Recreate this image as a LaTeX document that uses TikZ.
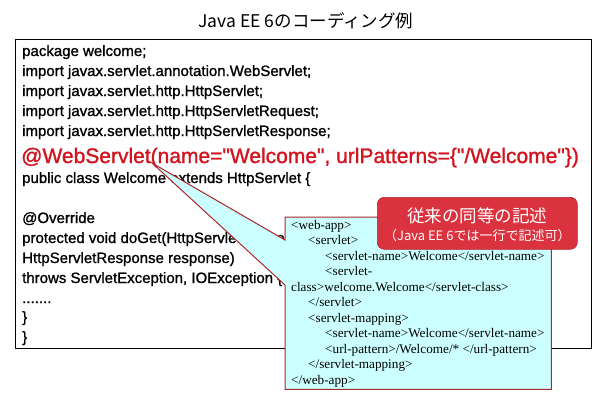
\documentclass[tikz,border=0pt]{standalone}
\usepackage{fontspec}
\setmainfont{Liberation Sans}
\newfontfamily\jpfont{Noto Sans CJK JP}
\newfontfamily\codefont[FakeBold=1.2]{Liberation Sans}
\newfontfamily\xmlfont{Liberation Serif}
\definecolor{annRed}{RGB}{210,20,30}
\definecolor{noteRed}{RGB}{218,50,62}
\definecolor{calloutFill}{RGB}{204,255,255}
\definecolor{calloutLine}{RGB}{170,40,40}
\tikzset{
  code/.style={anchor=base west, inner sep=0pt, font=\codefont\fontsize{15}{17}\selectfont},
  redcode/.style={anchor=base west, inner sep=0pt, text=annRed, font=\codefont\fontsize{21}{23}\selectfont},
  xml/.style={anchor=base west, inner sep=0pt, font=\xmlfont\fontsize{13.2}{15}\selectfont},
  framebox/.style={draw=black, line width=1.1pt, inner sep=0pt, anchor=north west},
  callout/.style={fill=calloutFill, draw=calloutLine, line width=1pt, line join=miter},
  notebox/.style={fill=noteRed, draw=noteRed!80!black, line width=0.6pt, rounded corners=7pt, inner sep=0pt, anchor=north west, text=white, align=center}
}
\begin{document}
\begin{tikzpicture}[x=1pt,y=-1pt]
\useasboundingbox (0,0) rectangle (612,416);
\fill[white] (0,0) rectangle (612,416);
% title
\node[font=\jpfont\fontsize{17.5}{19}\selectfont, inner sep=0pt] (title) at (306,21) {Java EE 6のコーディング例};
% main code box
\node[framebox, minimum width=576pt, minimum height=309pt] (codebox) at (15,39) {};
% code lines
\node[code] (c1) at (22,56) {package welcome;};
\node[code] (c2) at (22,76) {import javax.servlet.annotation.WebServlet;};
\node[code] (c3) at (22,96) {import javax.servlet.http.HttpServlet;};
\node[code] (c4) at (22,116) {import javax.servlet.http.HttpServletRequest;};
\node[code] (c5) at (22,136) {import javax.servlet.http.HttpServletResponse;};
\node[redcode] (c6) at (21,163) {@WebServlet(name="Welcome", urlPatterns=\{"/Welcome"\})};
\node[code] (c7) at (22,183) {public class Welcome extends HttpServlet \{};
\node[code] (c8) at (22,223) {@Override};
\node[code] (c9) at (22,243) {protected void doGet(HttpServletRequest request,};
\node[code] (c10) at (22,263) {HttpServletResponse response)};
\node[code] (c11) at (22,283) {throws ServletException, IOException \{};
\node[code] (c12) at (22,303) {.......};
\node[code] (c13) at (22,322) {\}};
\node[code] (c14) at (22,342) {\}};
% callout
\node[inner sep=0pt, anchor=north west, minimum width=266pt, minimum height=172pt] (xmlbox) at (285,217) {};
\coordinate (tip) at (152,163);
\path[callout] (xmlbox.north west) -- (xmlbox.north east) -- (xmlbox.south east) -- (xmlbox.south west)
  -- ([yshift=-68pt]xmlbox.north west) -- (tip) -- ([yshift=-23pt]xmlbox.north west) -- cycle;
% xml lines
\node[xml] (x1) at (291,229) {<web-app>};
\node[xml] (x2) at (308,244.5) {<servlet>};
\node[xml] (x3) at (325,260) {<servlet-name>Welcome</servlet-name>};
\node[xml] (x4) at (325,275.5) {<servlet-};
\node[xml] (x5) at (291,291) {class>welcome.Welcome</servlet-class>};
\node[xml] (x6) at (308,306.5) {</servlet>};
\node[xml] (x7) at (308,322) {<servlet-mapping>};
\node[xml] (x8) at (325,337.5) {<servlet-name>Welcome</servlet-name>};
\node[xml] (x9) at (325,353) {<url-pattern>/Welcome/* </url-pattern>};
\node[xml] (x10) at (308,368.5) {</servlet-mapping>};
\node[xml] (x11) at (291,384) {</web-app>};
% red note
\node[notebox, minimum width=200pt, minimum height=52pt] (note) at (377,197) {};
\node[text=white, inner sep=0pt, font=\jpfont\fontsize{17.5}{19}\selectfont] (n1) at ([yshift=-19pt]note.north) {従来の同等の記述};
\node[text=white, inner sep=0pt, font=\jpfont\fontsize{13}{15}\selectfont] (n2) at ([yshift=-38.5pt]note.north) {（Java EE 6では一行で記述可）};
\end{tikzpicture}
\end{document}
